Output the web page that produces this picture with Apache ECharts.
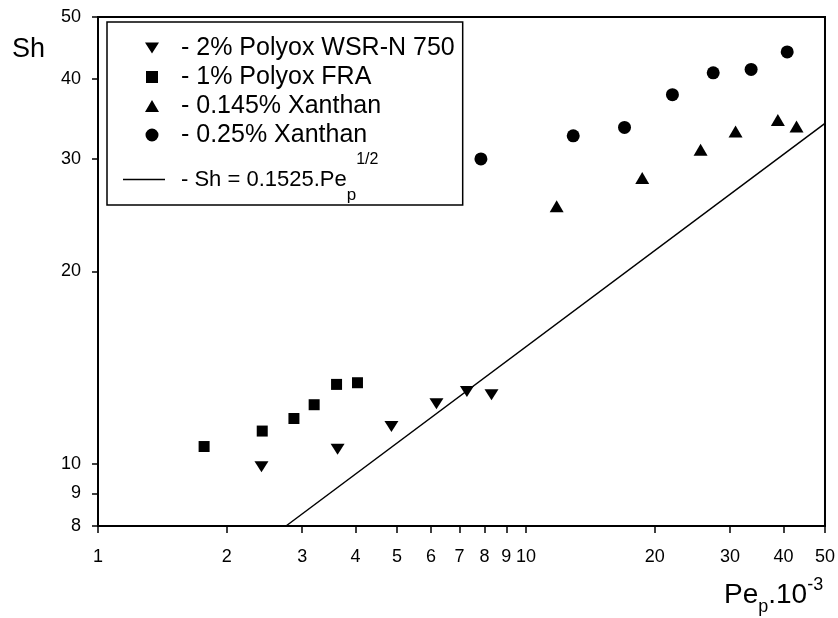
<!DOCTYPE html>
<html>
<head>
<meta charset="utf-8">
<script src="https://cdn.jsdelivr.net/npm/echarts@6.0.0/dist/echarts.min.js"></script>
<style>
html, body { margin: 0; padding: 0; background: #fff; }
#chart { width: 838px; height: 618px; }
</style>
</head>
<body>
<div id="chart"></div>
<script>
const FONT = '"Liberation Sans", Arial, Helvetica, sans-serif';

// Axis ticks
const xTicks = [1, 2, 3, 4, 5, 6, 7, 8, 9, 10, 20, 30, 40, 50];
const yTicks = [8, 9, 10, 20, 30, 40, 50];

// Series names
const nameWsr = '2% Polyox WSR-N 750';
const nameFra = '1% Polyox FRA';
const nameX145 = '0.145% Xanthan';
const nameX25 = '0.25% Xanthan';
const nameFit = 'Sh = 0.1525.Pe_p^1/2';

// Data (Pe_p·10^-3 , Sh)
const wsrX = [2.41, 3.63, 4.85, 6.18, 7.28, 8.31];
const wsrY = [9.90, 10.55, 11.45, 12.42, 12.98, 12.83];

const fraX = [1.77, 2.42, 2.87, 3.20, 3.61, 4.04];
const fraY = [10.65, 11.26, 11.78, 12.38, 13.32, 13.40];

const x145X = [11.8, 18.7, 25.6, 30.9, 38.8, 42.9];
const x145Y = [25.3, 28.0, 31.0, 33.1, 34.5, 33.7];

const x25X = [7.85, 12.9, 17.0, 22.0, 27.4, 33.6, 40.8];
const x25Y = [30.0, 32.6, 33.6, 37.8, 40.9, 41.4, 44.1];

// Fitted line end points
const fitX = [2.75, 50];
const fitY = [8.0, 34.1];

function zip(xs, ys) { return xs.map((x, i) => [x, ys[i]]); }

// Legend icons drawn inside a 42 x 13 box (markers to the right of centre, as in the original)
const BOX = 'M0,0Z M42,13Z ';
const iconDown = BOX + 'M22,1L36,1L29,12Z';
const iconSquare = BOX + 'M23,0.5L35,0.5L35,12.5L23,12.5Z';
const iconUp = BOX + 'M29,0.5L36,12.5L22,12.5Z';
const iconCircle = BOX + 'M35.5,6.5A6.5,6.5,0,1,1,22.5,6.5A6.5,6.5,0,1,1,35.5,6.5Z';
const iconLine = BOX + 'M0,5.75L42,5.75L42,7.25L0,7.25Z';

const chart = echarts.init(document.getElementById('chart'), null, { renderer: 'canvas' });

const scatterBase = {
  type: 'scatter',
  itemStyle: { color: '#000', opacity: 1 },
  emphasis: { disabled: true },
  z: 4
};

const option = {
  animation: false,
  backgroundColor: '#fff',
  textStyle: { fontFamily: FONT },
  grid: {
    left: 98, right: 12, top: 17, bottom: 92,
    show: true, borderColor: '#000', borderWidth: 2, backgroundColor: 'transparent'
  },
  xAxis: {
    type: 'log', logBase: 10, min: 1, max: 50,
    axisLine: { show: true, lineStyle: { color: '#000', width: 2 } },
    axisTick: { show: true, inside: false, length: 7, customValues: xTicks, lineStyle: { color: '#000', width: 1.5 } },
    axisLabel: { show: true, customValues: xTicks, margin: 22, color: '#000', fontSize: 18, fontFamily: FONT,
      formatter: v => String(Math.round(v)) },
    splitLine: { show: false },
    minorTick: { show: false }
  },
  yAxis: {
    type: 'log', logBase: 10, min: 8, max: 50,
    axisLine: { show: true, lineStyle: { color: '#000', width: 2 } },
    axisTick: { show: true, inside: false, length: 6, customValues: yTicks, lineStyle: { color: '#000', width: 1.5 } },
    axisLabel: { show: true, customValues: yTicks, margin: 17, color: '#000', fontSize: 18, fontFamily: FONT,
      formatter: v => String(Math.round(v)) },
    splitLine: { show: false },
    minorTick: { show: false }
  },
  legend: {
    left: 107, top: 22,
    orient: 'vertical', align: 'left',
    padding: [13.5, 8, 1, 16],
    itemGap: 4, itemWidth: 42, itemHeight: 13,
    borderColor: '#000', borderWidth: 1.5, backgroundColor: '#fff',
    selectedMode: false,
    data: [
      { name: nameWsr, icon: 'path://' + iconDown },
      { name: nameFra, icon: 'path://' + iconSquare },
      { name: nameX145, icon: 'path://' + iconUp },
      { name: nameX25, icon: 'path://' + iconCircle },
      { name: nameFit, icon: 'path://' + iconLine }
    ],
    formatter: function (name) {
      if (name === nameFit) return '{m|- Sh = 0.1525.Pe}{sub|p}{sup|1/2}';
      return '- ' + name;
    },
    textStyle: {
      color: '#000', fontFamily: FONT, fontSize: 25, lineHeight: 25, padding: [0, 0, 0, 11],
      rich: {
        m: { fontSize: 22, lineHeight: 49, fontFamily: FONT, color: '#000' },
        sub: { fontSize: 17, lineHeight: 49, height: 6, fontFamily: FONT, color: '#000', padding: [32, 0, 0, 0] },
        sup: { fontSize: 16, lineHeight: 49, height: 6, fontFamily: FONT, color: '#000', padding: [0, 0, 40, 0] }
      }
    }
  },
  graphic: [
    {
      type: 'text', x: 12, y: 50, z: 10,
      style: { text: 'Sh', fontSize: 27, fontFamily: FONT, fill: '#000', align: 'left', verticalAlign: 'middle' }
    },
    {
      type: 'text', x: 724, y: 595, z: 10,
      style: {
        text: '{m|Pe}{sub|p}{m|.10}{sup|-3}',
        fill: '#000', align: 'left', verticalAlign: 'middle',
        rich: {
          m: { fontSize: 28, fontFamily: FONT, fill: '#000', lineHeight: 28 },
          sub: { fontSize: 18, fontFamily: FONT, fill: '#000', lineHeight: 28, height: 6, padding: [25, 0, 0, 0] },
          sup: { fontSize: 18, fontFamily: FONT, fill: '#000', lineHeight: 28, height: 6, padding: [0, 0, 20, 0] }
        }
      }
    }
  ],
  series: [
    Object.assign({}, scatterBase, {
      name: nameWsr, data: zip(wsrX, wsrY),
      symbol: 'path://M0,0L14,0L7,12Z', symbolSize: [14, 11]
    }),
    Object.assign({}, scatterBase, {
      name: nameFra, data: zip(fraX, fraY),
      symbol: 'rect', symbolSize: 11
    }),
    Object.assign({}, scatterBase, {
      name: nameX145, data: zip(x145X, x145Y),
      symbol: 'path://M7,0L14,12L0,12Z', symbolSize: [14, 12]
    }),
    Object.assign({}, scatterBase, {
      name: nameX25, data: zip(x25X, x25Y),
      symbol: 'circle', symbolSize: 13
    }),
    {
      name: nameFit, type: 'line', data: zip(fitX, fitY),
      symbol: 'none', showSymbol: false,
      lineStyle: { color: '#000', width: 1.5 },
      itemStyle: { color: '#000' },
      emphasis: { disabled: true },
      z: 2
    }
  ]
};

chart.setOption(option);
</script>
</body>
</html>
